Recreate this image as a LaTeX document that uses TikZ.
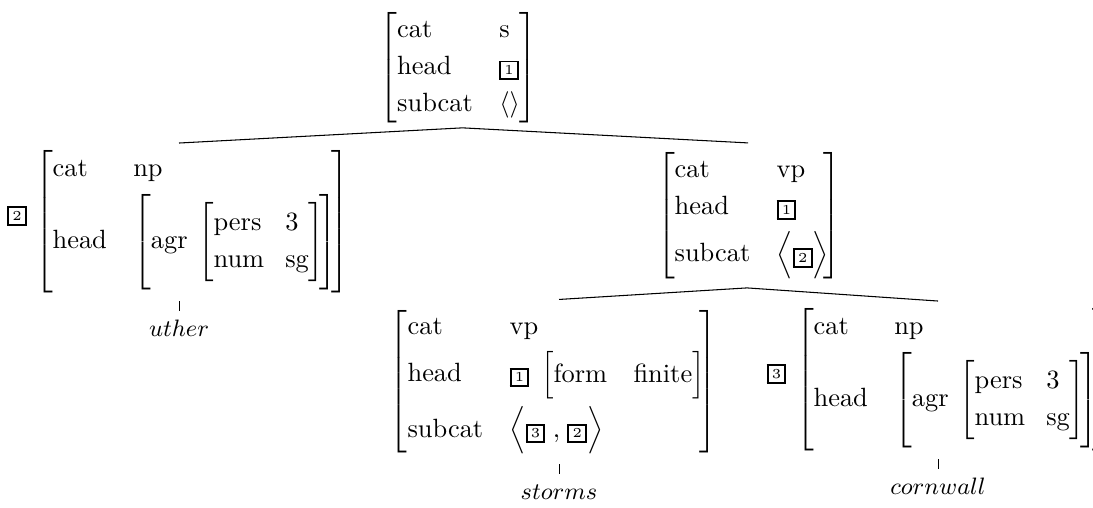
\documentclass[tikz,border=0pt]{standalone}
\usepackage{amsmath}
\usetikzlibrary{calc}
\newcommand{\tg}[1]{{\setlength{\fboxsep}{1.2pt}\setlength{\fboxrule}{0.75pt}\fbox{\fontsize{5.2}{6}\selectfont #1}}}
\newcommand{\ft}[1]{\text{#1}}
\newcommand{\vstrut}[2]{\vphantom{\rule[-#2]{1pt}{\dimexpr#1+#2\relax}}}
\newcommand{\colgap}{@{\hspace{10pt}}}
\newcommand{\rk}{\kern-2pt}
\renewcommand{\arraystretch}{1.1667}
\newcommand{\agrval}{\left[\begin{array}{@{}l@{\hspace{4pt}}l@{}}
     \vstrut{19.5pt}{14.5pt}\ft{agr} & \left[\begin{array}{@{}l@{\hspace{8pt}}l@{}}
        \ft{pers} & \ft{3}\\
        \ft{num} & \ft{sg}
     \end{array}\right]
  \end{array}\rk\right]}
\newcommand{\npavm}{\left[\begin{array}{@{}l\colgap l@{}}
  \ft{cat} & \ft{np}\\[2.7pt]
  \vstrut{0pt}{16.5pt}\ft{head} & \agrval
\end{array}\rk\right]}
\begin{document}
\begin{tikzpicture}[x=0.37879pt,y=-0.37879pt,
  avm/.style={inner sep=0pt, outer sep=0pt},
  leaf/.style={inner sep=0pt, anchor=base, font=\small},
  tag/.style={inner sep=0pt},
  branch/.style={line width=0.4pt},
  tick/.style={line width=0.3pt}]
\useasboundingbox (0,0) rectangle (1093,507);
% root
\node[avm] (s) at (458.5,67.4) {$\left[\begin{array}{@{}l\colgap l@{}}
  \ft{cat} & \ft{s}\\
  \ft{head} & \tg{1}\\
  \ft{subcat} & \langle\rangle
\end{array}\right]$};
% left np
\node[tag] (t2) at (17,216) {\tg{2}};
\node[avm, anchor=west] (np1) at (35,221.3) {$\npavm$};
% vp
\node[avm] (vp) at (749,215.4) {$\left[\begin{array}{@{}l\colgap l@{}}
  \ft{cat} & \ft{vp}\\
  \ft{head} & \tg{1}\\[2.1pt]
  \ft{subcat} & \left\langle\begin{array}{@{}l@{}}\tg{2}\end{array}\right\rangle
\end{array}\rk\right]$};
% storms vp
\node[avm] (vf) at (553.5,381.3) {$\left[\begin{array}{@{}l\colgap l@{}}
  \ft{cat} & \ft{vp}\\[2.3pt]
  \ft{head} & \tg{1}\;\left[\begin{array}{@{}l\colgap l@{}}
     \ft{form} & \ft{finite}
  \end{array}\right]\\[5.2pt]
  \ft{subcat} & \left\langle\begin{array}{@{}l@{}}\tg{3}\;{,}\;\tg{2}\end{array}\right\rangle
\end{array}\rk\right]$};
% cornwall np
\node[tag] (t3) at (776.5,374) {\tg{3}};
\node[avm, anchor=west] (np2) at (796,379.3) {$\npavm$};
% leaves
\node[leaf] (uther) at (179,336) {$uther$};
\node[leaf] (storms) at (559,499) {$storms$};
\node[leaf] (cornwall) at (938,494) {$cornwall$};
% branches
\coordinate (sb) at ($(s.south)+(4,5)$);
\coordinate (l1) at ($(uther |- np1.north)+(0,-7)$);
\coordinate (r1) at ($(vp.north)+(-1,-9)$);
\draw[branch] (l1) -- (sb) -- (r1);
\coordinate (vb) at ($(vp.south)+(-2,9)$);
\coordinate (l2) at ($(storms |- vf.north)+(0,-9)$);
\coordinate (r2) at ($(cornwall |- np2.north)+(0,-7)$);
\draw[branch] (l2) -- (vb) -- (r2);
\draw[tick] ($(uther.north)+(0,-8)$) -- ($(uther.north)+(0,-18)$);
\draw[tick] ($(storms.north)+(0,-10)$) -- ($(storms.north)+(0,-20)$);
\draw[tick] ($(cornwall.north)+(0,-8)$) -- ($(cornwall.north)+(0,-18)$);
\end{tikzpicture}
\end{document}
